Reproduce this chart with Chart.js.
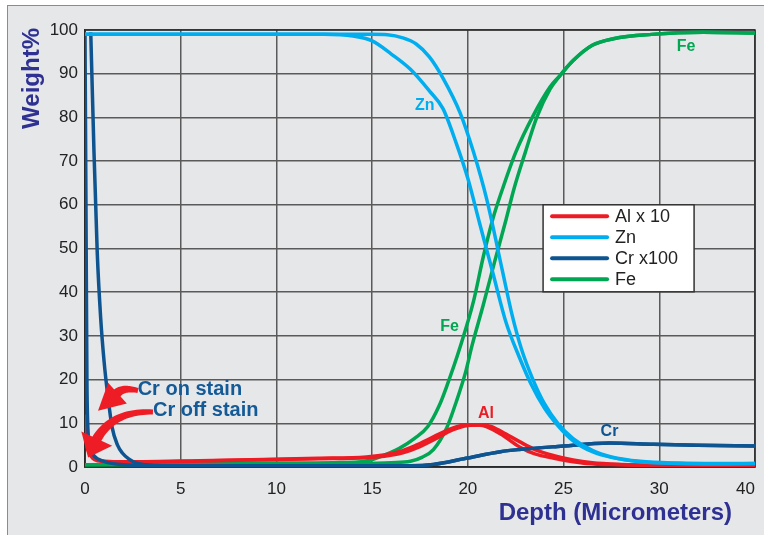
<!DOCTYPE html>
<html lang="en">
<head>
    <meta charset="UTF-8">
    <title>Depth Profile</title>
    <script src="https://cdn.jsdelivr.net/npm/chart.js"></script>
    <style>
        html, body { margin: 0; padding: 0; background: #ffffff; }
        #frame {
            position: absolute; left: 7px; top: 5px; width: 757px; height: 530px;
            background: #e6e7e9; border-left: 1.5px solid #8c8c8c; border-top: 1.5px solid #8c8c8c;
            box-sizing: border-box;
        }
        #chart { position: absolute; left: 0; top: 0; }
    </style>
</head>
<body>
    <div id="frame"></div>
    <canvas id="chart" width="764" height="535"></canvas>

    <script>
        // Depth positions are read on the drawn axis (the last gridline is labelled 40)
        const xTicks = [0, 5, 10, 15, 20, 25, 30, 35];
        const xTickLabels = ['0', '5', '10', '15', '20', '25', '30', '40    '];

        // Zn, two profiles
        const znAX = [0, 5, 10, 12.5, 14, 15, 16, 17, 18, 18.7, 19.4, 20, 20.6, 21.3, 22, 22.7, 23.3, 24, 24.7, 25.5, 26.5, 27.5, 29, 31, 33, 35];
        const znAY = [99, 99, 99, 99, 98.6, 97.5, 94.5, 91, 86, 82, 74, 66, 56, 44.5, 33, 25, 19, 13.5, 9.5, 6, 3.5, 2.2, 1.2, 0.8, 0.7, 0.8];
        const znBX = [0, 5, 10, 13.5, 15, 15.8, 16.6, 17.3, 18, 18.7, 19.6, 20.3, 21, 21.8, 22.3, 22.8, 23.4, 24, 24.7, 25.5, 26.5, 27.5, 29, 31, 33, 35];
        const znBY = [99, 99, 99, 99, 99, 98.9, 98.2, 96.8, 93.8, 89, 81, 72, 61, 45, 35, 27, 20, 14.5, 10, 6.5, 3.8, 2.3, 1.3, 0.9, 0.8, 0.8];

        // Fe, two profiles
        const feAX = [0, 5, 10, 13, 14.7, 15.8, 16.4, 17.2, 17.9, 18.5, 18.9, 19.6, 20.3, 20.8, 21.3, 21.8, 22.5, 23.4, 24.3, 24.8, 25.5, 26.5, 27.6, 29.6, 32.3, 35];
        const feAY = [0.5, 0.7, 0.9, 1, 1.4, 3, 4.2, 6.5, 9.2, 14, 18.5, 27.5, 38, 48, 56.7, 63.5, 72, 80.3, 87, 89.5, 93, 96.5, 98, 99, 99.5, 99.3];
        const feBX = [0, 5, 10, 14, 16, 17, 17.6, 18.2, 18.9, 19.4, 19.9, 20.2, 20.8, 21.4, 22, 22.4, 23, 23.6, 24.3, 24.8, 25.5, 26.5, 27.6, 29.6, 32.3, 35];
        const feBY = [0.5, 0.6, 0.7, 0.8, 1, 1.3, 2.2, 4, 9, 15, 22, 27.5, 37, 47, 56.7, 63.5, 72, 80, 86.5, 89.5, 93, 96.5, 98, 99, 99.5, 99.3];

        // Al x 10, two profiles
        const alAX = [0, 0.1, 0.25, 0.4, 0.7, 1.5, 3, 6, 10, 12.2, 14.7, 16.4, 17.3, 18.2, 19.2, 19.9, 20.6, 21, 21.8, 22.7, 23.5, 24.5, 25.5, 26.2, 28, 30, 33, 35];
        const alAY = [12, 6, 3.5, 2.3, 1.6, 1.2, 1.2, 1.45, 1.8, 2, 2.3, 3.5, 5, 6.9, 8.9, 9.6, 9.6, 9.2, 7.3, 4.6, 3, 2, 1.2, 0.8, 0.5, 0.3, 0.2, 0.2];
        const alBX = [0, 0.1, 0.25, 0.4, 0.7, 1.5, 3, 6, 10, 12.2, 14.7, 16.4, 17.3, 18.2, 19.2, 20, 20.6, 21.2, 21.8, 22.7, 23.5, 24.5, 25.5, 26.5, 28, 30, 33, 35];
        const alBY = [10, 5, 3, 2, 1.4, 1.1, 1.1, 1.35, 1.7, 1.9, 2.1, 3, 4.3, 6.2, 8.5, 9.5, 9.6, 9.3, 8, 5.8, 4, 2.6, 1.6, 1, 0.6, 0.35, 0.2, 0.2];

        // Cr x100, two profiles
        const crAX = [0, 0.05, 0.1, 0.15, 0.25, 0.4, 0.7, 1.2, 2, 4, 8, 12, 15, 17, 18.2, 19.9, 21.7, 22.7, 24.7, 27.4, 29.7, 32, 35];
        const crAY = [99, 60, 20, 9, 5, 3, 1.8, 1, 0.5, 0.3, 0.3, 0.3, 0.3, 0.3, 0.6, 2, 3.5, 4, 4.7, 5.5, 5.2, 5, 4.8];
        const crBX = [0.3, 0.47, 0.64, 0.82, 1, 1.2, 1.42, 1.7, 1.95, 2.3, 2.7, 3.2, 4, 8, 12, 15, 17, 18.2, 19.9, 21.7, 22.7, 24.7, 27.4, 29.7, 32, 35];
        const crBY = [99.5, 72, 49, 34, 24, 16, 9, 5, 3.2, 1.8, 0.9, 0.5, 0.3, 0.3, 0.3, 0.3, 0.3, 0.6, 2, 3.5, 4, 4.7, 5.5, 5.2, 5, 4.8];

        const COLORS = { al: '#ed1c24', zn: '#00aeef', cr: '#0e5490', fe: '#00a651' };
        const FONT = '"Liberation Sans", Arial, sans-serif';

        function series(label, xs, ys, color, order, legend) {
            return {
                label: label,
                data: xs.map((x, i) => ({ x: x, y: ys[i] })),
                borderColor: color,
                backgroundColor: color,
                borderWidth: 3.5,
                pointRadius: 0,
                showLine: true,
                cubicInterpolationMode: 'monotone',
                order: order,
                inLegend: legend
            };
        }

        const datasets = [
            series('Al x 10', alAX, alAY, COLORS.al, 3, true),
            series('Al x 10', alBX, alBY, COLORS.al, 3, false),
            series('Zn', znAX, znAY, COLORS.zn, 1, true),
            series('Zn', znBX, znBY, COLORS.zn, 1, false),
            series('Cr x100', crAX, crAY, COLORS.cr, 2, true),
            series('Cr x100', crBX, crBY, COLORS.cr, 2, false),
            series('Fe', feAX, feAY, COLORS.fe, 4, true),
            series('Fe', feBX, feBY, COLORS.fe, 4, false)
        ];

        // labels written on the plot, positioned in data units
        const curveLabels = [
            { text: 'Zn', x: 17.75, y: 82.6, color: COLORS.zn, size: 16 },
            { text: 'Fe', x: 31.4, y: 96.3, color: COLORS.fe, size: 16 },
            { text: 'Fe', x: 19.05, y: 32.1, color: COLORS.fe, size: 16 },
            { text: 'Al', x: 20.95, y: 12.2, color: COLORS.al, size: 16 },
            { text: 'Cr', x: 27.4, y: 8, color: COLORS.cr, size: 16 }
        ];
        const noteLabels = [
            { text: 'Cr on stain', x: 2.75, y: 17.8 },
            { text: 'Cr off stain', x: 3.55, y: 12.9 }
        ];
        // tail, bend, head base, tip (data units) + head half width in px
        const arrows = [
            { pts: [[2.77, 17.5], [1.93, 18.4], [1.62, 16.6], [0.68, 12.9]], head: 14 },
            { pts: [[3.55, 12.6], [1.41, 12.9], [0.57, 6.06], [0.16, 2.17]], head: 17 }
        ];

        const decorations = {
            id: 'decorations',
            beforeDatasetsDraw(chart) {
                const { ctx, chartArea: a } = chart;
                ctx.save();
                ctx.strokeStyle = '#2a2a2a';
                ctx.lineWidth = 1.5;
                ctx.strokeRect(a.left, a.top, a.right - a.left, a.bottom - a.top);
                ctx.restore();
            },
            afterDatasetsDraw(chart) {
                const { ctx, scales } = chart;
                const px = p => [scales.x.getPixelForValue(p[0]), scales.y.getPixelForValue(p[1])];
                ctx.save();

                // red arrows, tapered shaft along a quadratic curve
                ctx.fillStyle = '#ee1c25';
                arrows.forEach(ar => {
                    const [t, c, b, tip] = ar.pts.map(px);
                    const left = [], right = [];
                    const n = 24;
                    for (let i = 0; i <= n; i++) {
                        const u = i / n, v = 1 - u;
                        const x = v * v * t[0] + 2 * u * v * c[0] + u * u * b[0];
                        const y = v * v * t[1] + 2 * u * v * c[1] + u * u * b[1];
                        const dx = 2 * v * (c[0] - t[0]) + 2 * u * (b[0] - c[0]);
                        const dy = 2 * v * (c[1] - t[1]) + 2 * u * (b[1] - c[1]);
                        const l = Math.hypot(dx, dy) || 1;
                        const w = (5 + 5 * u) / 2;
                        left.push([x - dy / l * w, y + dx / l * w]);
                        right.push([x + dy / l * w, y - dx / l * w]);
                    }
                    ctx.beginPath();
                    left.forEach((p, i) => i ? ctx.lineTo(p[0], p[1]) : ctx.moveTo(p[0], p[1]));
                    right.reverse().forEach(p => ctx.lineTo(p[0], p[1]));
                    ctx.closePath();
                    ctx.fill();

                    const dx = tip[0] - b[0], dy = tip[1] - b[1];
                    const len = Math.hypot(dx, dy);
                    const nx = -dy / len * ar.head, ny = dx / len * ar.head;
                    const bx = b[0] - dx / len * 2, by = b[1] - dy / len * 2;
                    ctx.beginPath();
                    ctx.moveTo(tip[0], tip[1]);
                    ctx.lineTo(bx + nx, by + ny);
                    ctx.lineTo(bx - nx, by - ny);
                    ctx.closePath();
                    ctx.fill();
                });

                ctx.textBaseline = 'middle';
                ctx.textAlign = 'left';
                ctx.fillStyle = '#135a97';
                ctx.font = 'bold 20px ' + FONT;
                noteLabels.forEach(l => {
                    const p = px([l.x, l.y]);
                    ctx.fillText(l.text, p[0], p[1]);
                });

                ctx.textAlign = 'center';
                curveLabels.forEach(l => {
                    const p = px([l.x, l.y]);
                    ctx.fillStyle = l.color;
                    ctx.font = 'bold ' + l.size + 'px ' + FONT;
                    ctx.fillText(l.text, p[0], p[1]);
                });
                ctx.restore();
            },
            afterDraw(chart) {
                const { ctx, scales, chartArea: a } = chart;
                ctx.save();

                // axis titles
                ctx.fillStyle = '#2e3192';
                ctx.font = 'bold 24px ' + FONT;
                ctx.textBaseline = 'middle';
                ctx.textAlign = 'right';
                ctx.fillText('Depth (Micrometers)', a.right - 23, a.bottom + 46);
                ctx.translate(32, a.top - 2);
                ctx.rotate(-Math.PI / 2);
                ctx.fillText('Weight%', 0, 0);
                ctx.setTransform(1, 0, 0, 1, 0, 0);

                // legend box
                const lx = scales.x.getPixelForValue(23.93);
                const ly = scales.y.getPixelForValue(60);
                const w = 151, h = 87;
                ctx.fillStyle = '#ffffff';
                ctx.fillRect(lx, ly, w, h);
                ctx.strokeStyle = '#333333';
                ctx.lineWidth = 1.5;
                ctx.strokeRect(lx, ly, w, h);
                ctx.font = '18px ' + FONT;
                ctx.textAlign = 'left';
                datasets.filter(d => d.inLegend).forEach((d, i) => {
                    const yy = ly + 11.5 + i * 21;
                    ctx.strokeStyle = d.borderColor;
                    ctx.lineWidth = 4;
                    ctx.lineCap = 'round';
                    ctx.beginPath();
                    ctx.moveTo(lx + 9, yy);
                    ctx.lineTo(lx + 64, yy);
                    ctx.stroke();
                    ctx.fillStyle = '#222222';
                    ctx.fillText(d.label, lx + 72, yy + 1);
                });
                ctx.restore();
            }
        };

        const chart = new Chart(document.getElementById('chart').getContext('2d'), {
            type: 'scatter',
            data: { datasets: datasets },
            options: {
                responsive: false,
                animation: false,
                layout: { padding: { left: 0, top: 30, right: 9, bottom: 0 } },
                plugins: { legend: { display: false }, tooltip: { enabled: false } },
                scales: {
                    x: {
                        type: 'linear', min: 0, max: 35,
                        afterFit: s => { s.height = 68; s.paddingLeft = 0; s.paddingRight = 0; },
                        afterBuildTicks: s => { s.ticks = xTicks.map(v => ({ value: v })); },
                        ticks: {
                            color: '#222222', padding: 12,
                            font: { family: FONT, size: 17 },
                            callback: v => xTickLabels[xTicks.indexOf(v)]
                        },
                        grid: { color: '#5a5a5a', lineWidth: 1.5, drawTicks: false },
                        border: { color: '#2a2a2a', width: 1.5 }
                    },
                    y: {
                        min: 0, max: 100,
                        afterFit: s => { s.width = 85; s.paddingTop = 0; s.paddingBottom = 0; },
                        ticks: {
                            stepSize: 10, color: '#222222', padding: 7,
                            font: { family: FONT, size: 17 }
                        },
                        grid: { color: '#5a5a5a', lineWidth: 1.5, drawTicks: false },
                        border: { color: '#2a2a2a', width: 1.5 }
                    }
                }
            },
            plugins: [decorations]
        });
    </script>
</body>
</html>
